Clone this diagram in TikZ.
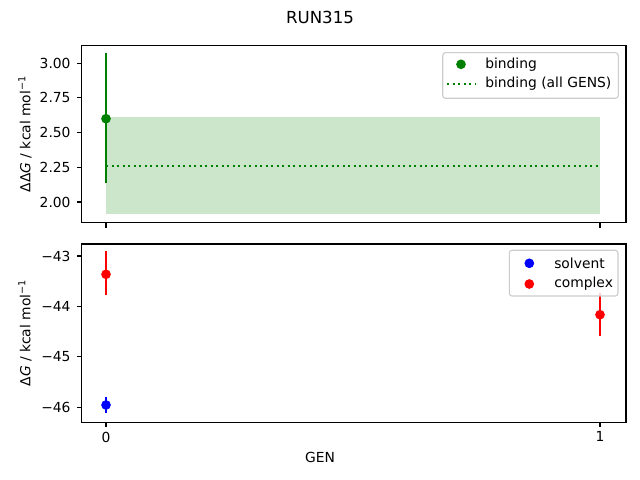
\documentclass[tikz,border=0pt]{standalone}
\usepackage{fontspec}
\setmainfont{DejaVu Sans}
\usetikzlibrary{positioning}

\definecolor{mplgreen}{RGB}{0,128,0}
\definecolor{bandgreen}{RGB}{204,230,204}
\definecolor{mplblue}{RGB}{0,0,255}
\definecolor{mplred}{RGB}{255,0,0}
\definecolor{legendedge}{RGB}{204,204,204}

\tikzset{
	frame/.style = {black, line width = 0.8pt},
	errbar/.style = {line width = 1.5pt},
	legendbox/.style = {draw = legendedge, line width = 0.8pt, fill = white, fill opacity = 0.8, rounded corners = 2pt},
	every node/.style = {inner sep = 0pt}
}

\begin{document}
\begin{tikzpicture}[x = 0.01in, y = -0.01in, font = \fontsize{10}{12}\selectfont]
					\useasboundingbox (0, 0) rectangle (640, 480);
					\node (title) at (320, 17) {\fontsize{12}{14}\selectfont RUN315};
					% upper panel
					\fill [bandgreen] (106, 117.3) rectangle (600, 214.5);
					\draw [mplgreen, line width = 1.5pt, dash pattern = on 1.5pt off 2.475pt] (106, 165.9) -- (600, 165.9);
					\draw [mplgreen, errbar] (106, 53.3) -- (106, 182.7);
					\fill [mplgreen] (106, 118.7) circle (3.5pt);
					\draw [frame] (81.5, 45.3) rectangle (626, 222.7);
					\foreach \lab [count = \i from 0] in {2.00, 2.25, 2.50, 2.75, 3.00} {
						\draw [frame] (81.5, 202 - 34.7 * \i) -- ++(-3.5pt, 0);
						\node at (70.8, 202 - 34.7 * \i) [anchor = east] {\lab};
					}
					\foreach \gx in {106, 600}
						\draw [frame] (\gx, 222.7) -- ++(0, -3.5pt);
					\node (ylabtop) at (25, 134) [rotate = 90] {ΔΔ{\itshape G} / kcal mol\textsuperscript{−1}};
					\draw [legendbox] (442.7, 52.7) rectangle (618.3, 98.3);
					\fill [mplgreen] (461, 64.3) circle (3.5pt);
					\node at (485, 64.3) [anchor = west] {binding};
					\draw [mplgreen, line width = 1.5pt, dash pattern = on 1.5pt off 2.475pt] (447, 83.7) -- (475, 83.7);
					\node at (485, 83.7) [anchor = west] {binding (all GENS)};
					% lower panel
					\draw [mplred, errbar] (106, 250.7) -- (106, 295.3);
					\fill [mplred] (106, 274.3) circle (3.5pt);
					\draw [mplblue, errbar] (106, 396.7) -- (106, 413.3);
					\fill [mplblue] (106, 405) circle (3.5pt);
					\draw [mplred, errbar] (600, 292.8) -- (600, 335.7);
					\fill [mplred] (600, 314.7) circle (3.5pt);
					\draw [frame] (81.5, 244) rectangle (626, 422.3);
					\foreach \lab [count = \i from 0] in {−43, −44, −45, −46} {
						\draw [frame] (81.5, 256 + 50.4 * \i) -- ++(-3.5pt, 0);
						\node at (70.8, 256 + 50.4 * \i) [anchor = east] {\lab};
					}
					\foreach \gx/\lab in {106/0, 600/1} {
						\draw [frame] (\gx, 422.3) -- ++(0, -3.5pt);
						\node at (\gx, 431.5) [anchor = north] {\lab};
					}
					\node (ylabbot) at (25, 333) [rotate = 90] {Δ{\itshape G} / kcal mol\textsuperscript{−1}};
					\node (xlab) at (320, 457) {GEN};
					\draw [legendbox] (509.3, 250.3) rectangle (618, 296);
					\fill [mplblue] (529.3, 263.3) circle (3.5pt);
					\node at (554, 263.3) [anchor = west] {solvent};
					\fill [mplred] (529.3, 284) circle (3.5pt);
					\node at (554, 284) [anchor = west] {complex};
				\end{tikzpicture}
\end{document}
